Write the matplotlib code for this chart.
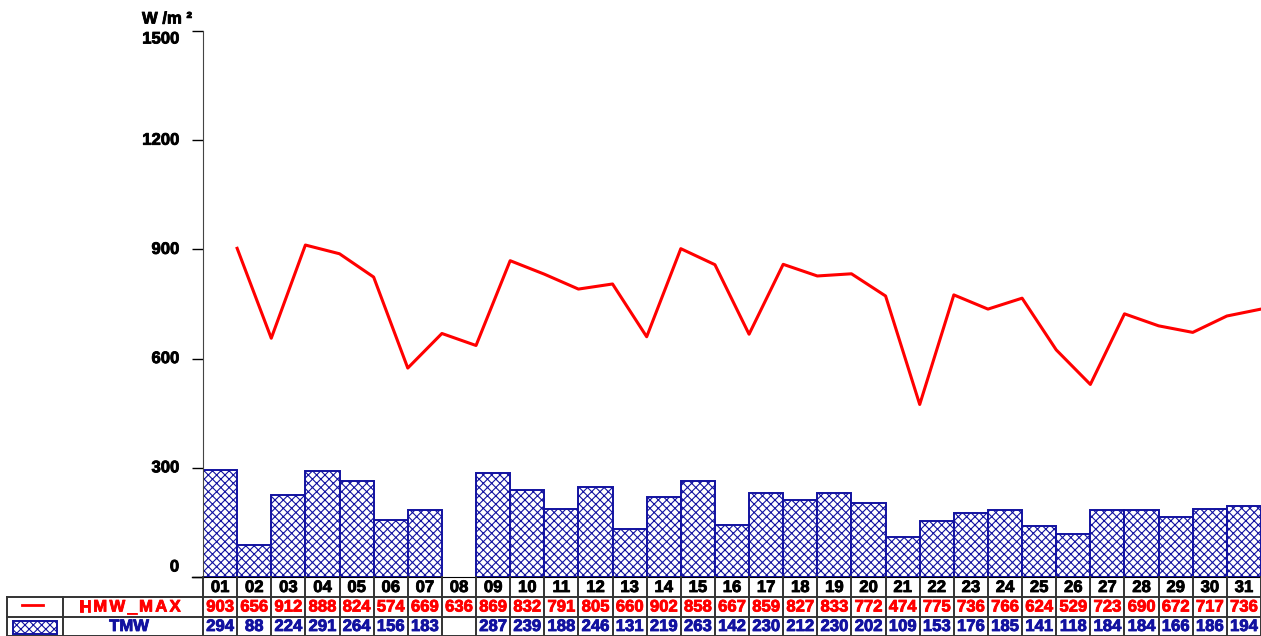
import numpy as np
import matplotlib
matplotlib.use("Agg")
import matplotlib.pyplot as plt
from matplotlib import transforms
from matplotlib import patheffects as pe
from matplotlib.lines import Line2D
from matplotlib.patches import Rectangle

plt.rcParams['font.family'] = ['Liberation Sans', 'DejaVu Sans']
plt.rcParams['hatch.linewidth'] = 0.8

days = ["01", "02", "03", "04", "05", "06", "07", "08", "09", "10", "11", "12", "13", "14", "15", "16",
        "17", "18", "19", "20", "21", "22", "23", "24", "25", "26", "27", "28", "29", "30", "31"]
hmw_max = [903, 656, 912, 888, 824, 574, 669, 636, 869, 832, 791, 805, 660, 902, 858, 667,
           859, 827, 833, 772, 474, 775, 736, 766, 624, 529, 723, 690, 672, 717, 736]
tmw = [294, 88, 224, 291, 264, 156, 183, None, 287, 239, 188, 246, 131, 219, 263, 142,
       230, 212, 230, 202, 109, 153, 176, 185, 141, 118, 184, 184, 166, 186, 194]
yticks = [0, 300, 600, 900, 1200, 1500]
unit_label = "W /m ²"
row_names = ["HMW_MAX", "TMW"]

RED = "#ff0000"
BLUE = "#1212a0"
W, H = 1261, 636


def heavy(color):
    return [pe.withStroke(linewidth=0.6, foreground=color)]


fig = plt.figure(figsize=(W / 100, H / 100), dpi=100)
ax = fig.add_axes([203 / W, 1 - 577 / H, 1 - 203 / W, (577 - 31) / H])

x = np.arange(len(days))
bx = [i for i, v in enumerate(tmw) if v is not None]
bv = [v for v in tmw if v is not None]
ax.bar(bx, bv, width=1.0, facecolor="white", edgecolor=BLUE, hatch="xxxx", linewidth=1.4, zorder=2)
ax.plot(x + 0.5, hmw_max, color=RED, lw=2.2, zorder=3, clip_on=False)

ax.set_xlim(-0.5, len(days) - 0.5)
ax.set_ylim(0, 1500)
ax.set_yticks(yticks)
ax.set_yticklabels([""] * len(yticks))
ax.set_xticks([])
for s in ["top", "right"]:
    ax.spines[s].set_visible(False)
ax.spines["left"].set_color("#444444")
ax.spines["bottom"].set_color("black")
ax.tick_params(axis="y", length=8, width=1, direction="out", color="black")

fy = lambda p: 1 - p / H
fx = lambda p: p / W
ylab_tr = transforms.blended_transform_factory(fig.transFigure, ax.transData)
for t in yticks:
    dy = 0
    if t == 0:
        dy = 10
    elif t == 1500:
        dy = -8
    tr = ylab_tr + transforms.ScaledTranslation(0, dy / 100, fig.dpi_scale_trans)
    fig.text(fx(179), t, str(t), transform=tr, ha="right", va="center", fontsize=12, fontweight="bold",
             path_effects=heavy("black"))

fig.text(142 / W, fy(19), unit_label, fontsize=12, fontweight="bold", ha="left", va="center",
         path_effects=heavy("black"))

fig.add_artist(Line2D([192 / W, 203 / W], [fy(577)] * 2, color="black", lw=1))

blend = transforms.blended_transform_factory(ax.transData, fig.transFigure)
LC = "#333333"

r1, r2, r3 = 587.5, 607, 626.5

for i, d in enumerate(days):
    ax.text(i, fy(r1), d, transform=blend, ha="center", va="center", fontsize=12, fontweight="bold",
            color="black", path_effects=heavy("black"))
    ax.text(i, fy(r2), str(hmw_max[i]), transform=blend, ha="center", va="center", fontsize=12,
            fontweight="bold", color=RED, path_effects=heavy(RED))
    if tmw[i] is not None:
        ax.text(i, fy(r3), str(tmw[i]), transform=blend, ha="center", va="center", fontsize=12,
                fontweight="bold", color=BLUE, path_effects=heavy(BLUE))

for i in range(len(days) + 1):
    xx = i - 0.5
    fig.add_artist(Line2D([xx, xx], [fy(577), fy(636)], transform=blend, color=LC, lw=1.4))

for yp in [597, 616.5, 635.5]:
    fig.add_artist(Line2D([fx(7), 1.0], [fy(yp)] * 2, color=LC, lw=1.4))
for xp in [7, 63]:
    fig.add_artist(Line2D([fx(xp)] * 2, [fy(597), fy(636)], color=LC, lw=1.4))

renderer = fig.canvas.get_renderer()
cx = 79.0
for ch in row_names[0]:
    t = fig.text(fx(cx), fy(r2), ch, ha="left", va="center", fontsize=12, fontweight="bold", color=RED,
                 path_effects=heavy(RED))
    bb = t.get_window_extent(renderer)
    cx += bb.width + 2.3
fig.text(fx(129), fy(r3), row_names[1], ha="center", va="center", fontsize=12, fontweight="bold", color=BLUE,
         path_effects=heavy(BLUE))

fig.add_artist(Line2D([fx(22), fx(43)], [fy(605)] * 2, color=RED, lw=2))
fig.add_artist(Rectangle((fx(13), fy(634)), fx(57) - fx(13), fy(621) - fy(634), transform=fig.transFigure,
                         facecolor="white", edgecolor=BLUE, hatch="xxxx", lw=1.4))

fig.savefig("out.png", dpi=100)
